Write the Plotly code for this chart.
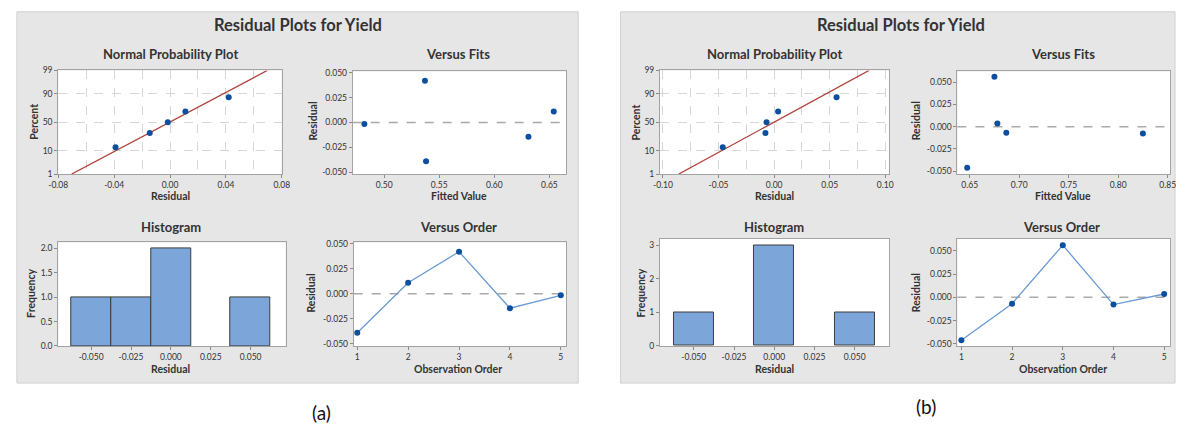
import plotly.graph_objects as go
from statistics import NormalDist, mean, stdev

W, H = 1186, 435
FONT = "Lato, 'Noto Sans', sans-serif"
ND = NormalDist()

# ---------------- data ----------------
order = [1, 2, 3, 4, 5]
fits_a = [0.538, 0.654, 0.537, 0.631, 0.482]
resid_a = [-0.039, 0.011, 0.042, -0.0145, -0.0016]
fits_b = [0.6475, 0.687, 0.675, 0.825, 0.678]
resid_b = [-0.0462, -0.0068, 0.0562, -0.0078, 0.0036]

prob_ticks = [1, 10, 50, 90, 99]
prob_text = ["1", "10", "50", "90", "99"]
npp_ticks_a = [-0.08, -0.04, 0.0, 0.04, 0.08]
npp_text_a = ["-0.08", "-0.04", "0.00", "0.04", "0.08"]
npp_ticks_b = [-0.10, -0.05, 0.0, 0.05, 0.10]
npp_text_b = ["-0.10", "-0.05", "0.00", "0.05", "0.10"]
resid_ticks = [-0.05, -0.025, 0.0, 0.025, 0.05]
resid_text = ["-0.050", "-0.025", "0.000", "0.025", "0.050"]
fit_ticks_a = [0.50, 0.55, 0.60, 0.65]
fit_text_a = ["0.50", "0.55", "0.60", "0.65"]
fit_ticks_b = [0.65, 0.70, 0.75, 0.80, 0.85]
fit_text_b = ["0.65", "0.70", "0.75", "0.80", "0.85"]
freq_ticks_a = [0, 0.5, 1.0, 1.5, 2.0]
freq_text_a = ["0.0", "0.5", "1.0", "1.5", "2.0"]
freq_ticks_b = [0, 1, 2, 3]
freq_text_b = ["0", "1", "2", "3"]
order_ticks = [1, 2, 3, 4, 5]
order_text = ["1", "2", "3", "4", "5"]

MARK = "#0b4f9e"
LINE_BLUE = "#6a9ad4"
FIT_RED = "#b0413b"
BAR = "#7ca5d9"
GRID = "#d6d6d6"

fig = go.Figure()


def z(p):
    return ND.inv_cdf(p / 100.0)


def npp(resid, ax):
    xs = sorted(resid)
    n = len(xs)
    ys = [z(100.0 * (i + 1 - 0.3) / (n + 0.4)) for i in range(n)]
    m, s = mean(resid), stdev(resid)
    lo, hi = z(1), z(99)
    fig.add_trace(go.Scatter(x=[m + s * lo, m + s * hi], y=[lo, hi], mode="lines",
                             line=dict(color=FIT_RED, width=1.3),
                             xaxis="x" + ax, yaxis="y" + ax, showlegend=False, hoverinfo="skip"))
    fig.add_trace(go.Scatter(x=xs, y=ys, mode="markers", marker=dict(color=MARK, size=6),
                             xaxis="x" + ax, yaxis="y" + ax, showlegend=False))


def vfits(fits, resid, ax):
    fig.add_trace(go.Scatter(x=fits, y=resid, mode="markers", marker=dict(color=MARK, size=6),
                             xaxis="x" + ax, yaxis="y" + ax, showlegend=False))


def hist(resid, ax):
    fig.add_trace(go.Histogram(x=resid, xbins=dict(start=-0.0625, end=0.0625, size=0.025),
                               marker=dict(color=BAR, line=dict(color="#3d3d3d", width=1)),
                               xaxis="x" + ax, yaxis="y" + ax, showlegend=False))


def vorder(resid, ax):
    fig.add_trace(go.Scatter(x=order, y=resid, mode="lines+markers",
                             line=dict(color=LINE_BLUE, width=1.3),
                             marker=dict(color=MARK, size=6),
                             xaxis="x" + ax, yaxis="y" + ax, showlegend=False))


npp(resid_a, "")
vfits(fits_a, resid_a, "2")
hist(resid_a, "3")
vorder(resid_a, "4")
npp(resid_b, "5")
vfits(fits_b, resid_b, "6")
hist(resid_b, "7")
vorder(resid_b, "8")

# ---------------- layout ----------------
boxes = {
    1: (49, 276, 67, 173),
    2: (348, 565, 68, 173),
    3: (49, 280, 243, 349),
    4: (349, 565, 243, 349),
    5: (660, 893, 67, 173),
    6: (962, 1178, 68, 173),
    7: (660, 893, 239, 349),
    8: (962, 1178, 239, 349),
}

common = dict(showline=True, mirror=True, linecolor="#a3a3a3", linewidth=1,
              ticks="outside", ticklen=3, tickcolor="#8a8a8a", tickwidth=1,
              tickfont=dict(family=FONT, size=8.5, color="#333333"),
              showgrid=False, zeroline=False, fixedrange=True, tickmode="array")


def setax(k, xr, xt, xtt, yr, yt, ytt, xextra=None, yextra=None):
    x0, x1, y0, y1 = boxes[k]
    sfx = "" if k == 1 else str(k)
    xa = dict(common, domain=[x0 / W, x1 / W], range=xr, tickvals=xt, ticktext=xtt,
              anchor="y" + sfx)
    ya = dict(common, domain=[1 - y1 / H, 1 - y0 / H], range=yr, tickvals=yt, ticktext=ytt,
              anchor="x" + sfx)
    if xextra:
        xa.update(xextra)
    if yextra:
        ya.update(yextra)
    fig.update_layout(**{"xaxis" + sfx: xa, "yaxis" + sfx: ya})


prob_z = [z(p) for p in prob_ticks]
ygrid = dict(showgrid=True, gridcolor=GRID, griddash="dash", gridwidth=1)
setax(1, [-0.08, 0.08], npp_ticks_a, npp_text_a, [z(1), z(99)], prob_z, prob_text,
      xextra=dict(showgrid=True, gridcolor=GRID, griddash="dash",
                  minor=dict(tickmode="linear", tick0=0, dtick=0.02, showgrid=True,
                             gridcolor=GRID, griddash="dash", ticks="")),
      yextra=ygrid)
setax(2, [0.4714, 0.6655], fit_ticks_a, fit_text_a, [-0.052, 0.0515], resid_ticks, resid_text)
setax(3, [-0.0706, 0.072], resid_ticks, resid_text, [0, 2.12], freq_ticks_a, freq_text_a)
setax(4, [0.93, 5.11], order_ticks, order_text, [-0.0522, 0.0513], resid_ticks, resid_text)
setax(5, [-0.1027, 0.1038], npp_ticks_b, npp_text_b, [z(1), z(99)], prob_z, prob_text,
      xextra=dict(showgrid=True, gridcolor=GRID, griddash="dash",
                  minor=dict(tickmode="linear", tick0=0, dtick=0.025, showgrid=True,
                             gridcolor=GRID, griddash="dash", ticks="")),
      yextra=ygrid)
setax(6, [0.6376, 0.8525], fit_ticks_b, fit_text_b, [-0.0533, 0.0621], resid_ticks, resid_text)
setax(7, [-0.071, 0.0716], resid_ticks, resid_text, [0, 3.2], freq_ticks_b, freq_text_b)
setax(8, [0.922, 5.117], order_ticks, order_text, [-0.0524, 0.0634], resid_ticks, resid_text)

shapes = []
# gray panels
for (x0, y0, x1, y1) in [(7, 7, 577, 387), (620, 7, 1183, 387)]:
    shapes.append(dict(type="rect", xref="paper", yref="paper", layer="below",
                       x0=x0 / W, x1=x1 / W, y0=1 - y1 / H, y1=1 - y0 / H,
                       fillcolor="#e6e6e6", line=dict(color="#d0d0d0", width=1)))
# white plot areas
for k, (x0, x1, y0, y1) in boxes.items():
    shapes.append(dict(type="rect", xref="paper", yref="paper", layer="below",
                       x0=x0 / W, x1=x1 / W, y0=1 - y1 / H, y1=1 - y0 / H,
                       fillcolor="white", line=dict(width=0)))
# zero reference lines
for k in [2, 4, 6, 8]:
    shapes.append(dict(type="line", xref="x%d domain" % k, yref="y%d" % k, layer="below",
                       x0=0, x1=1, y0=0, y1=0,
                       line=dict(color="#a9a9a9", width=1.5, dash="dash")))

anns = []


def ann(text, x, y, size, bold=True, angle=0, color="#333333"):
    t = "<b>%s</b>" % text if bold else text
    anns.append(dict(text=t, x=x / W, y=1 - y / H, xref="paper", yref="paper",
                     xanchor="center", yanchor="middle", showarrow=False, textangle=angle,
                     font=dict(family=FONT, size=size, color=color)))


for dx, tx in [(0, 292), (613, 905)]:
    pass

ann("Residual Plots for Yield", 292, 20, 16.5)
ann("Residual Plots for Yield", 905, 20, 16.5)
# panel a
ann("Normal Probability Plot", 163, 50, 13)
ann("Versus Fits", 455, 50, 13)
ann("Histogram", 163, 227, 13)
ann("Versus Order", 455, 227, 13)
ann("Residual", 163, 195, 10.5)
ann("Fitted Value", 456, 196, 10.5)
ann("Residual", 163, 373, 10.5)
ann("Observation Order", 455, 373, 10.5)
ann("Percent", 25, 120, 10.5, angle=-90)
ann("Residual", 308, 119, 10.5, angle=-90)
ann("Frequency", 22, 295, 10.5, angle=-90)
ann("Residual", 306, 295, 10.5, angle=-90)
# panel b
ann("Normal Probability Plot", 776, 50, 13)
ann("Versus Fits", 1069, 50, 13)
ann("Histogram", 776, 227, 13)
ann("Versus Order", 1068, 227, 13)
ann("Residual", 776, 195, 10.5)
ann("Fitted Value", 1069, 196, 10.5)
ann("Residual", 776, 373, 10.5)
ann("Observation Order", 1069, 373, 10.5)
ann("Percent", 636, 120, 10.5, angle=-90)
ann("Residual", 920, 119, 10.5, angle=-90)
ann("Frequency", 641, 295, 10.5, angle=-90)
ann("Residual", 920, 295, 10.5, angle=-90)
# labels
ann("(a)", 316, 417, 19, bold=False, color="#111111")
ann("(b)", 930, 411, 19, bold=False, color="#111111")

fig.update_layout(width=W, height=H, autosize=False,
                  margin=dict(l=0, r=0, t=0, b=0),
                  paper_bgcolor="white", plot_bgcolor="rgba(0,0,0,0)",
                  shapes=shapes, annotations=anns, bargap=0, showlegend=False,
                  font=dict(family=FONT))

fig.write_html("out.html", config={"displayModeBar": False},
               post_script="document.body.style.margin='0px';")
